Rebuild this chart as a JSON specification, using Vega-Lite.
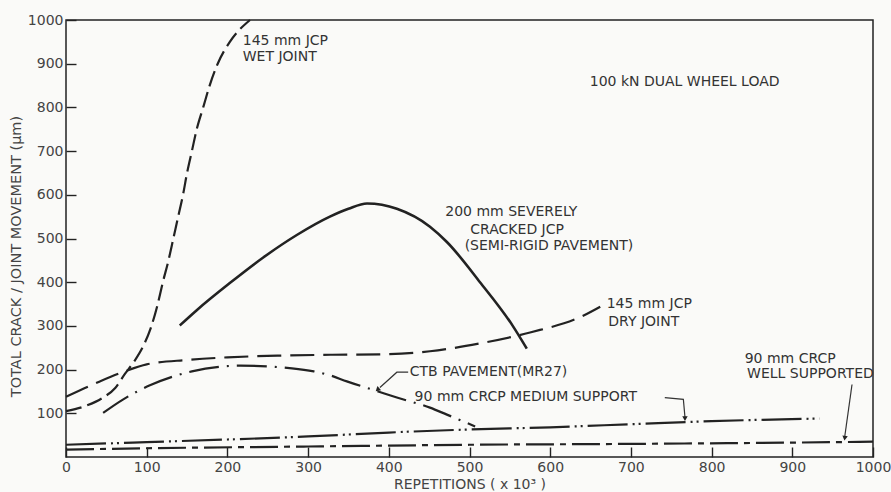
{
  "$schema": "https://vega.github.io/schema/vega-lite/v6.json",
  "width": 807,
  "height": 437,
  "autosize": {"type": "none"},
  "padding": {"left": 66, "top": 20, "right": 18, "bottom": 35},
  "background": "#fafaf8",
  "config": {
    "view": {"stroke": "#222", "strokeWidth": 1.5},
    "font": "DejaVu Sans"
  },
  "datasets": {
    "curves": [
      {"series": "wet", "x": 0, "y": 105},
      {"series": "wet", "x": 26, "y": 118},
      {"series": "wet", "x": 45, "y": 135},
      {"series": "wet", "x": 61, "y": 158},
      {"series": "wet", "x": 73, "y": 190},
      {"series": "wet", "x": 85, "y": 220},
      {"series": "wet", "x": 96, "y": 255},
      {"series": "wet", "x": 105, "y": 295},
      {"series": "wet", "x": 113, "y": 345},
      {"series": "wet", "x": 120, "y": 400},
      {"series": "wet", "x": 127, "y": 450},
      {"series": "wet", "x": 133, "y": 500},
      {"series": "wet", "x": 139, "y": 550},
      {"series": "wet", "x": 145, "y": 600},
      {"series": "wet", "x": 150, "y": 650},
      {"series": "wet", "x": 156, "y": 700},
      {"series": "wet", "x": 162, "y": 750},
      {"series": "wet", "x": 170, "y": 800},
      {"series": "wet", "x": 178, "y": 850},
      {"series": "wet", "x": 188, "y": 900},
      {"series": "wet", "x": 203, "y": 950},
      {"series": "wet", "x": 228, "y": 1000},
      {"series": "dry", "x": 0, "y": 138},
      {"series": "dry", "x": 42, "y": 173},
      {"series": "dry", "x": 73, "y": 196},
      {"series": "dry", "x": 100, "y": 212},
      {"series": "dry", "x": 150, "y": 222},
      {"series": "dry", "x": 200, "y": 228},
      {"series": "dry", "x": 265, "y": 232},
      {"series": "dry", "x": 330, "y": 234},
      {"series": "dry", "x": 389, "y": 235},
      {"series": "dry", "x": 451, "y": 242},
      {"series": "dry", "x": 513, "y": 260},
      {"series": "dry", "x": 575, "y": 285},
      {"series": "dry", "x": 637, "y": 320},
      {"series": "dry", "x": 662, "y": 344},
      {"series": "ctb", "x": 46, "y": 101},
      {"series": "ctb", "x": 71, "y": 132},
      {"series": "ctb", "x": 104, "y": 164},
      {"series": "ctb", "x": 156, "y": 196},
      {"series": "ctb", "x": 216, "y": 209},
      {"series": "ctb", "x": 280, "y": 203},
      {"series": "ctb", "x": 307, "y": 196},
      {"series": "ctb", "x": 327, "y": 187},
      {"series": "ctb", "x": 348, "y": 173},
      {"series": "ctb", "x": 385, "y": 151},
      {"series": "ctb", "x": 410, "y": 136},
      {"series": "ctb", "x": 451, "y": 113},
      {"series": "ctb", "x": 472, "y": 97},
      {"series": "ctb", "x": 507, "y": 70},
      {"series": "medium", "x": 0, "y": 28},
      {"series": "medium", "x": 100, "y": 34},
      {"series": "medium", "x": 200, "y": 40},
      {"series": "medium", "x": 300, "y": 47},
      {"series": "medium", "x": 400, "y": 56},
      {"series": "medium", "x": 500, "y": 63},
      {"series": "medium", "x": 600, "y": 68},
      {"series": "medium", "x": 700, "y": 75},
      {"series": "medium", "x": 800, "y": 82},
      {"series": "medium", "x": 934, "y": 88},
      {"series": "well", "x": 0, "y": 17},
      {"series": "well", "x": 100, "y": 20},
      {"series": "well", "x": 300, "y": 24},
      {"series": "well", "x": 500, "y": 28},
      {"series": "well", "x": 700, "y": 30},
      {"series": "well", "x": 900, "y": 33},
      {"series": "well", "x": 1000, "y": 35}
    ],
    "solid": [
      {"x": 141, "y": 301},
      {"x": 162, "y": 336},
      {"x": 203, "y": 398},
      {"x": 244, "y": 456},
      {"x": 286, "y": 508},
      {"x": 327, "y": 550},
      {"x": 350, "y": 568},
      {"x": 373, "y": 580},
      {"x": 410, "y": 568},
      {"x": 451, "y": 527},
      {"x": 472, "y": 492},
      {"x": 513, "y": 400},
      {"x": 554, "y": 299},
      {"x": 571, "y": 248}
    ],
    "labels": [
      {"x": 219, "y": 951, "text": "145 mm JCP"},
      {"x": 219, "y": 916, "text": "WET JOINT"},
      {"x": 649, "y": 857, "text": "100 kN DUAL WHEEL LOAD"},
      {"x": 470, "y": 560, "text": "200 mm SEVERELY"},
      {"x": 501, "y": 520, "text": "CRACKED JCP"},
      {"x": 494, "y": 482, "text": "(SEMI-RIGID PAVEMENT)"},
      {"x": 670, "y": 349, "text": "145 mm JCP"},
      {"x": 672, "y": 308, "text": "DRY JOINT"},
      {"x": 426, "y": 194, "text": "CTB PAVEMENT(MR27)"},
      {"x": 432, "y": 138, "text": "90 mm CRCP MEDIUM SUPPORT"},
      {"x": 841, "y": 225, "text": "90 mm CRCP"},
      {"x": 844, "y": 189, "text": "WELL SUPPORTED"}
    ],
    "leaders": [
      {"leader": "ctb", "o": 1, "x": 424, "y": 194},
      {"leader": "ctb", "o": 2, "x": 410, "y": 194},
      {"leader": "ctb", "o": 3, "x": 389, "y": 159},
      {"leader": "medium", "o": 1, "x": 742, "y": 136},
      {"leader": "medium", "o": 2, "x": 765, "y": 132},
      {"leader": "medium", "o": 3, "x": 767, "y": 91},
      {"leader": "well", "o": 1, "x": 974, "y": 166},
      {"leader": "well", "o": 2, "x": 965, "y": 47}
    ],
    "arrows": [
      {"x": 386, "y": 154, "angle": 48},
      {"x": 767, "y": 88, "angle": 0},
      {"x": 965, "y": 43, "angle": 8}
    ]
  },
  "layer": [
    {
      "data": {"name": "curves"},
      "mark": {"type": "line", "interpolate": "monotone", "color": "#222", "strokeWidth": 2.2},
      "encoding": {
        "x": {
          "field": "x", "type": "quantitative",
          "scale": {"domain": [0, 1000], "nice": false},
          "axis": {
            "values": [0, 100, 200, 300, 400, 500, 600, 700, 800, 900, 1000],
            "format": "d",
            "title": "REPETITIONS ( x 10³ )",
            "domain": false, "grid": false,
            "ticks": true,
            "tickSize": -10, "tickColor": "#222", "tickWidth": 1.4, "tickOpacity": 1,
            "labelPadding": 13, "labelFontSize": 14, "labelColor": "#444",
            "labelFlush": false,
            "titleFontSize": 14, "titleFontWeight": "normal", "titleColor": "#444",
            "titleBaseline": "middle", "titleY": 27
          }
        },
        "y": {
          "field": "y", "type": "quantitative",
          "scale": {"domain": [0, 1000], "nice": false},
          "axis": {
            "values": [100, 200, 300, 400, 500, 600, 700, 800, 900, 1000],
            "format": "d",
            "title": "TOTAL  CRACK / JOINT  MOVEMENT  (μm)",
            "domain": false, "grid": false,
            "ticks": true,
            "tickSize": -10, "tickColor": "#222", "tickWidth": 1.4, "tickOpacity": 1,
            "labelPadding": 13, "labelFontSize": 14, "labelColor": "#444",
            "labelFlush": false,
            "titleFontSize": 14.5, "titleFontWeight": "normal", "titleColor": "#444",
            "titleAngle": 270, "titleBaseline": "middle", "titleAlign": "center",
            "titleX": -50, "titleY": 236
          }
        },
        "detail": {"field": "series"},
        "strokeDash": {
          "field": "series", "type": "nominal",
          "scale": {
            "domain": ["wet", "dry", "ctb", "medium", "well"],
            "range": [[16, 6], [24, 9], [30, 8, 2, 8], [40, 5, 2, 4, 2, 5], [28, 6, 6, 6]]
          },
          "legend": null
        }
      }
    },
    {
      "data": {"name": "solid"},
      "mark": {"type": "line", "interpolate": "monotone", "color": "#222", "strokeWidth": 2.6},
      "encoding": {
        "x": {"field": "x", "type": "quantitative"},
        "y": {"field": "y", "type": "quantitative"}
      }
    },
    {
      "data": {"name": "leaders"},
      "mark": {"type": "line", "color": "#333", "strokeWidth": 1.2},
      "encoding": {
        "x": {"field": "x", "type": "quantitative"},
        "y": {"field": "y", "type": "quantitative"},
        "detail": {"field": "leader"},
        "order": {"field": "o", "type": "quantitative"}
      }
    },
    {
      "data": {"name": "arrows"},
      "mark": {"type": "point", "shape": "triangle-down", "filled": true, "color": "#222", "size": 30, "opacity": 1},
      "encoding": {
        "x": {"field": "x", "type": "quantitative"},
        "y": {"field": "y", "type": "quantitative"},
        "angle": {"field": "angle", "type": "quantitative", "scale": null}
      }
    },
    {
      "data": {"name": "labels"},
      "mark": {"type": "text", "align": "left", "baseline": "middle", "fontSize": 14, "color": "#333"},
      "encoding": {
        "x": {"field": "x", "type": "quantitative"},
        "y": {"field": "y", "type": "quantitative"},
        "text": {"field": "text"}
      }
    }
  ]
}
